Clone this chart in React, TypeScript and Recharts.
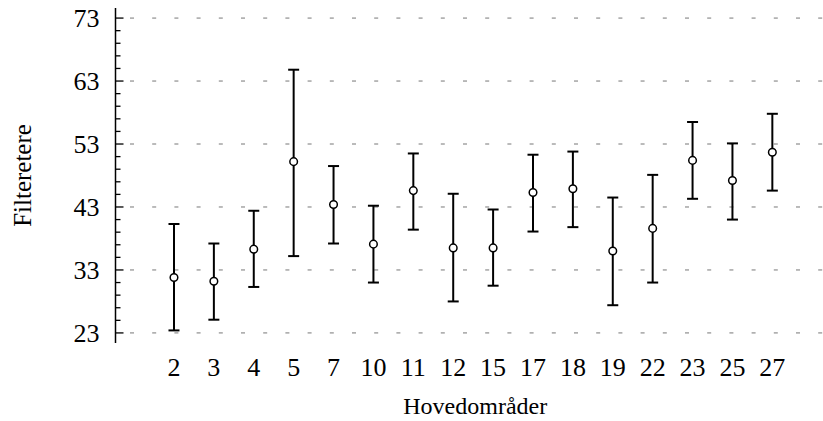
import React from 'react';
import { ScatterChart, Scatter, XAxis, YAxis, ErrorBar, ReferenceLine } from 'recharts';

const categories = ['2', '3', '4', '5', '7', '10', '11', '12', '15', '17', '18', '19', '22', '23', '25', '27'];
const means = [31.8, 31.2, 36.3, 50.2, 43.4, 37.1, 45.6, 36.5, 36.5, 45.3, 45.9, 36.0, 39.6, 50.4, 47.2, 51.7];
const uppers = [40.3, 37.2, 42.4, 64.8, 49.5, 43.2, 51.5, 45.1, 42.6, 51.3, 51.8, 44.5, 48.1, 56.5, 53.1, 57.8];
const lowers = [23.4, 25.1, 30.3, 35.2, 37.2, 31.0, 39.4, 28.0, 30.5, 39.1, 39.8, 27.4, 31.0, 44.3, 41.0, 45.6];

const majorTicks = [23, 33, 43, 53, 63, 73];
const minorTicks = [25, 27, 29, 31, 35, 37, 39, 41, 45, 47, 49, 51, 55, 57, 59, 61, 65, 67, 69, 71];

const FONT = '"Liberation Serif", "Times New Roman", serif';

const data = categories.map((c, i) => ({
  x: i,
  y: means[i],
  err: [means[i] - lowers[i], uppers[i] - means[i]],
}));

const allTicks = [...majorTicks, ...minorTicks].sort((a, b) => a - b);

const YTick = (props: any) => {
  const { x, y, payload } = props;
  const major = majorTicks.includes(payload.value);
  return (
    <g>
      <line x1={x} x2={x + (major ? 8 : 5)} y1={y} y2={y} stroke="#000" strokeWidth={1.3} />
      {major && (
        <text x={x - 16} y={y + 9} textAnchor="end" fontSize={26} fontFamily={FONT} fill="#000">
          {payload.value}
        </text>
      )}
    </g>
  );
};

const XTick = (props: any) => {
  const { x, y, payload } = props;
  return (
    <text x={x} y={y + 33} textAnchor="middle" fontSize={26} fontFamily={FONT} fill="#000">
      {categories[payload.value]}
    </text>
  );
};

const Marker = (props: any) => (
  <circle cx={props.cx} cy={props.cy} r={3.8} fill="#fff" stroke="#000" strokeWidth={1.5} />
);

export default function App() {
  return (
    <div style={{ position: 'absolute', left: 0, top: 0, width: 823, height: 421, background: '#fff' }}>
      <ScatterChart width={823} height={421} margin={{ top: 8, right: 0, bottom: 0, left: 0 }}>
        <XAxis
          type="number"
          dataKey="x"
          domain={[-1.466, 16.27]}
          ticks={categories.map((_, i) => i)}
          interval={0}
          allowDataOverflow
          axisLine={false}
          tickLine={false}
          tickSize={0}
          tickMargin={0}
          height={78}
          tick={<XTick />}
          label={{
            value: 'Hovedområder',
            position: 'insideBottom',
            offset: 7,
            dx: 6,
            style: { fontSize: 24, fontFamily: FONT, fill: '#000' },
          }}
        />
        <YAxis
          type="number"
          dataKey="y"
          domain={[21.4, 74.6]}
          ticks={allTicks}
          interval={0}
          allowDataOverflow
          width={115.5}
          axisLine={{ stroke: '#000', strokeWidth: 1.5 }}
          tickLine={false}
          tickSize={0}
          tickMargin={0}
          tick={<YTick />}
          label={{
            value: 'Filteretere',
            angle: -90,
            position: 'insideLeft',
            offset: 22,
            style: { fontSize: 25, fontFamily: FONT, fill: '#000', textAnchor: 'middle' },
          }}
        />
        {majorTicks.map((v) => (
          <ReferenceLine
            key={v}
            y={v}
            stroke="#777"
            strokeWidth={1}
            strokeDasharray="4 18.2"
            strokeDashoffset={7.7}
          />
        ))}
        <Scatter data={data} shape={<Marker />} isAnimationActive={false}>
          <ErrorBar dataKey="err" direction="y" width={5.5} stroke="#000" strokeWidth={2} isAnimationActive={false} />
        </Scatter>
      </ScatterChart>
    </div>
  );
}
